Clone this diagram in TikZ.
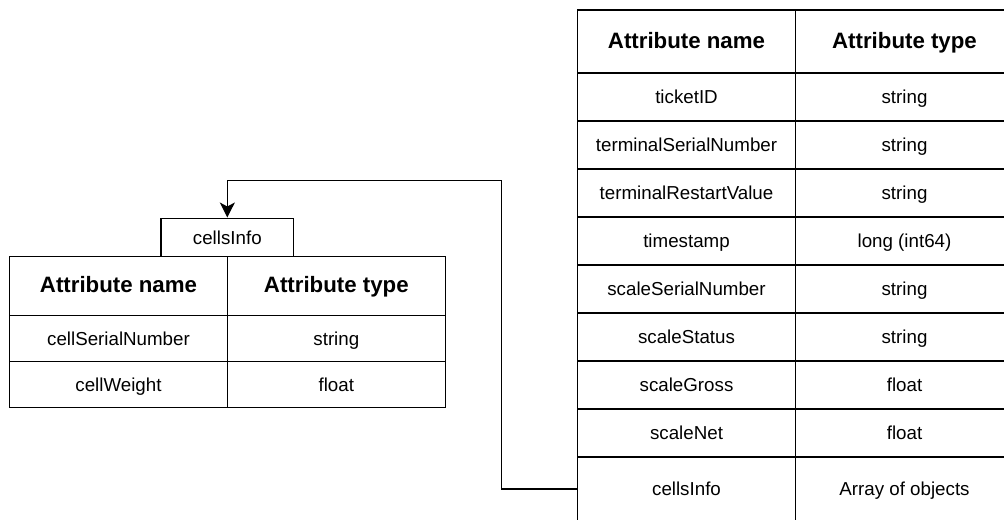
\documentclass[tikz,border=0pt]{standalone}
\usepackage{fontspec}
\setmainfont{Liberation Sans}
\usepackage{xcolor}
\usepackage{tikz}
\usetikzlibrary{arrows.meta,positioning}
\definecolor{TableLine}{RGB}{0,0,0}

\begin{document}
\begin{tikzpicture}[
cell/.style={
draw=TableLine,
line width=1.4pt,
minimum width=6.54cm,
minimum height=1.44cm,
inner sep=0pt,
text height=13.4pt,
text depth=2pt,
font=\fontsize{16}{19}\selectfont
},
headcell/.style={
cell,
minimum height=1.89cm,
text height=14.6pt,
text depth=3.4pt,
font=\fontsize{19}{22}\selectfont\bfseries
},
tag/.style={
cell,
minimum width=3.98cm,
minimum height=1.15cm
},
link/.style={
draw=TableLine,
line width=1.3pt,
-{Stealth[length=0.45cm,width=0.45cm,inset=0.12cm]}
}
]

\useasboundingbox[fill=white] (0,0) rectangle (30.12,-15.6);
\clip (0,0) rectangle (30.12,-15.6);

% ticket table
\node[headcell] (tHeadName) at (20.595,-1.245) {Attribute name};
\node[headcell] (tHeadType) at (27.135,-1.245) {Attribute type};

\node[cell] (tName1) at (20.595,-2.91) {ticketID};
\node[cell] (tType1) at (27.135,-2.91) {string};
\node[cell] (tName2) at (20.595,-4.35) {terminalSerialNumber};
\node[cell] (tType2) at (27.135,-4.35) {string};
\node[cell] (tName3) at (20.595,-5.79) {terminalRestartValue};
\node[cell] (tType3) at (27.135,-5.79) {string};
\node[cell] (tName4) at (20.595,-7.23) {timestamp};
\node[cell] (tType4) at (27.135,-7.23) {long (int64)};
\node[cell] (tName5) at (20.595,-8.67) {scaleSerialNumber};
\node[cell] (tType5) at (27.135,-8.67) {string};
\node[cell] (tName6) at (20.595,-10.11) {scaleStatus};
\node[cell] (tType6) at (27.135,-10.11) {string};
\node[cell] (tName7) at (20.595,-11.55) {scaleGross};
\node[cell] (tType7) at (27.135,-11.55) {float};
\node[cell] (tName8) at (20.595,-12.99) {scaleNet};
\node[cell] (tType8) at (27.135,-12.99) {float};
\node[cell,minimum height=1.92cm] (tName9) at (20.595,-14.67) {cellsInfo};
\node[cell,minimum height=1.92cm] (tType9) at (27.135,-14.67) {Array of objects};

% cells table
\node[tag] (cellsTag) at (6.82,-7.125) {cellsInfo};

\node[headcell,minimum height=1.77cm] (cHeadName) at (3.555,-8.585) {Attribute name};
\node[headcell,minimum height=1.77cm] (cHeadType) at (10.09,-8.585) {Attribute type};

\node[cell,minimum height=1.38cm] (cName1) at (3.555,-10.16) {cellSerialNumber};
\node[cell,minimum height=1.38cm] (cType1) at (10.09,-10.16) {string};
\node[cell,minimum height=1.38cm] (cName2) at (3.555,-11.54) {cellWeight};
\node[cell,minimum height=1.38cm] (cType2) at (10.09,-11.54) {float};

% reference from the array field
\coordinate (bend) at (15.05,-5.42);
\draw[link] (tName9.west) -| (bend) -| (cellsTag.north);

\end{tikzpicture}
\end{document}
